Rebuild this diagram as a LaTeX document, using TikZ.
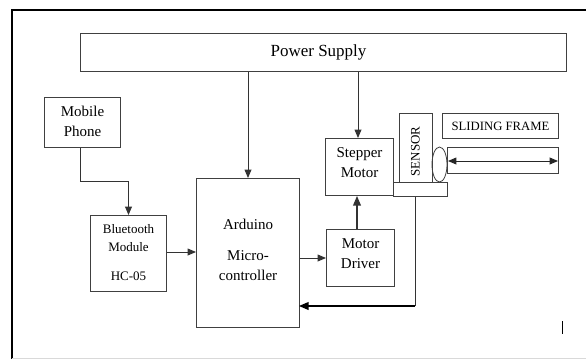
\documentclass[tikz,border=0pt]{standalone}
\usepackage{fontspec}
\setmainfont{Liberation Serif}
\usetikzlibrary{positioning,arrows,shapes,calc}
\tikzset{
  block/.style={draw=black!75, line width=1pt, inner sep=0pt, align=center, anchor=north west},
  flow/.style={draw=black!80, line width=0.9pt, -triangle 45},
  plain/.style={draw=black!80, line width=0.9pt}
}
\begin{document}
\begin{tikzpicture}[x=1pt,y=-1pt]
  \useasboundingbox (0,0) rectangle (586,359);
  % outer frame
  \draw[black,line width=2pt] (586,9.5) -- (11.5,9.5) -- (11.5,359);
  \draw[black!15,line width=0.8pt] (11.5,358) -- (586,358);

  \node[block,minimum width=486pt,minimum height=38pt,font=\fontsize{17}{20}\selectfont] (power) at (80,33) {Power Supply\hspace{10pt}};
  \node[block,minimum width=76pt,minimum height=50pt,font=\fontsize{15}{20}\selectfont] (mobile) at (44,97) {Mobile\\Phone\\[-17pt]};
  \node[block,minimum width=76pt,minimum height=76pt,font=\fontsize{13}{18}\selectfont] (bluetooth) at (90,215) {Bluetooth\\Module\\[11pt]HC-05\\[-15pt]};
  \node[block,minimum width=103pt,minimum height=149pt,font=\fontsize{15}{20}\selectfont] (arduino) at (196,178) {Arduino\\[11pt]Micro-\\controller\\[-14pt]};
  \node[block,minimum width=68pt,minimum height=57pt,font=\fontsize{15}{20}\selectfont] (stepper) at (325,138) {Stepper\\Motor\\[-11pt]};
  \node[block,minimum width=68pt,minimum height=57pt,font=\fontsize{15}{20}\selectfont] (driver) at (326,229) {Motor\\Driver\\[-12pt]};
  \node[block,minimum width=33pt,minimum height=69pt] (sensor) at (399,113) {};
  \node[rotate=90,font=\fontsize{13}{15}\selectfont,inner sep=0pt] (sensorlabel) at (415.5,151.5) {SENSOR};
  \node[block,minimum width=54pt,minimum height=13.5pt] (base) at (393,182) {};
  \node[block,minimum width=116pt,minimum height=25pt,font=\fontsize{12.7}{15}\selectfont] (sliding) at (442,113) {SLIDING FRAME};
  \node[block,minimum width=111pt,minimum height=26pt] (frame) at (447,147) {};
  \node[draw=black!75,line width=0.8pt,ellipse,minimum width=15pt,minimum height=35pt,inner sep=0pt] (roller) at (439.5,164.5) {};

  \coordinate (frameleft) at (448,161);
  \coordinate (frameright) at (558,161);
  \coordinate (mobiledown) at (80,181);
  \coordinate (feedbackdown) at (415,306);
  \coordinate (feedbackend) at (299,306);

  \draw[flow] (power.south -| arduino.north) -- (arduino.north);
  \draw[flow] (power.south -| 358,0) -- (358,138);
  \draw[flow] (mobile.south -| mobiledown) -- (mobiledown) -| (bluetooth.north);
  \draw[flow] (bluetooth.east |- 0,252) -- (arduino.west |- 0,252);
  \draw[flow] (arduino.east |- driver.west) -- (driver.west);
  \draw[flow,line width=1.2pt] (driver.north -| 357,0) -- (stepper.south -| 357,0);
  \draw[plain] (base.south -| feedbackdown) -- (feedbackdown);
  \draw[black,line width=1.2pt,-triangle 45] (feedbackdown) -- (feedbackend);
  \draw[black!85,line width=0.9pt,triangle 45-triangle 45] (frameleft) -- (frameright);

  % stray mark
  \coordinate (marktop) at (562.5,321);
  \coordinate (markbottom) at (562.5,334);
  \draw[black,line width=0.9pt] (marktop) -- (markbottom);
\end{tikzpicture}
\end{document}
